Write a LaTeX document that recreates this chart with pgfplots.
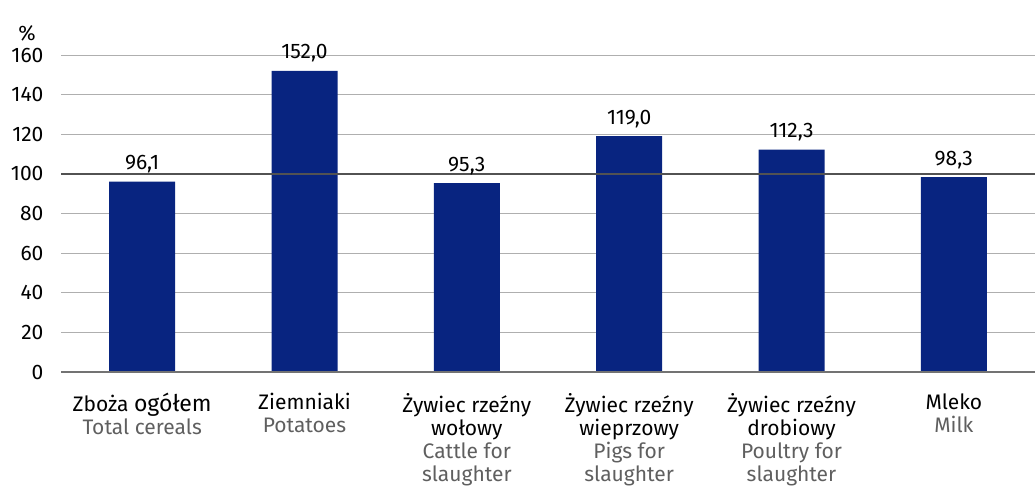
\documentclass[border=0pt]{standalone}
\usepackage{fontspec}
\setmainfont{Fira Sans}
\usepackage{pgfplots}
\pgfplotsset{compat=1.18}
\definecolor{barblue}{RGB}{8,36,128}
\definecolor{subgray}{RGB}{95,95,95}
\definecolor{gridgray}{RGB}{175,175,175}
\newcommand{\en}[1]{\textcolor{subgray}{#1}}
\newcommand{\lbl}{\fontsize{21}{23}\selectfont}
\begin{document}
\begin{tikzpicture}
\useasboundingbox (-61pt,-116pt) rectangle (974pt,372pt);
\begin{axis}[
    scale only axis,
    width=974pt, height=317pt,
    xmin=-0.5, xmax=5.5,
    ymin=0, ymax=160,
    ytick={0,20,...,160},
    xtick={0,...,5},
    xticklabels={
      {Zboża {\fontsize{23}{23}\selectfont ogółem}\\\en{Total cereals}},
      {Ziemniaki\\\en{Potatoes}},
      {Żywiec rzeźny\\wołowy\\\en{Cattle for}\\\en{slaughter}},
      {Żywiec rzeźny\\wieprzowy\\\en{Pigs for}\\\en{slaughter}},
      {Żywiec rzeźny\\drobiowy\\\en{Poultry for}\\\en{slaughter}},
      {Mleko\\\en{Milk}}},
    xticklabel style={align=center, anchor=north, yshift=-18pt, font=\lbl},
    yticklabel style={anchor=east, xshift=-14pt, font=\lbl},
    /pgf/number format/assume math mode=true,
    major tick length=0pt,
    axis line style={draw=none},
    ymajorgrids,
    major grid style={draw=gridgray, line width=0.9pt},
    clip=false,
]
\addplot[ybar, bar width=66pt, fill=barblue, draw=none,
    nodes near coords={\pgfmathprintnumber[fixed,fixed zerofill,precision=1,use comma]{\pgfplotspointmeta}},
    every node near coord/.append style={font=\lbl, yshift=5pt}] coordinates {
    (0,96.1) (1,152.0) (2,95.3) (3,119.0) (4,112.3) (5,98.3)
};
\addplot[sharp plot, draw=black!68, line width=2.4pt, forget plot] coordinates {(-0.5,100) (5.5,100)};
\addplot[sharp plot, draw=black!55, line width=1.2pt, forget plot] coordinates {(-0.5,0) (5.5,0)};
\node[anchor=center, font=\lbl] at (rel axis cs:0,1) [xshift=-34pt, yshift=22pt] {\%};
\end{axis}
\end{tikzpicture}
\end{document}
